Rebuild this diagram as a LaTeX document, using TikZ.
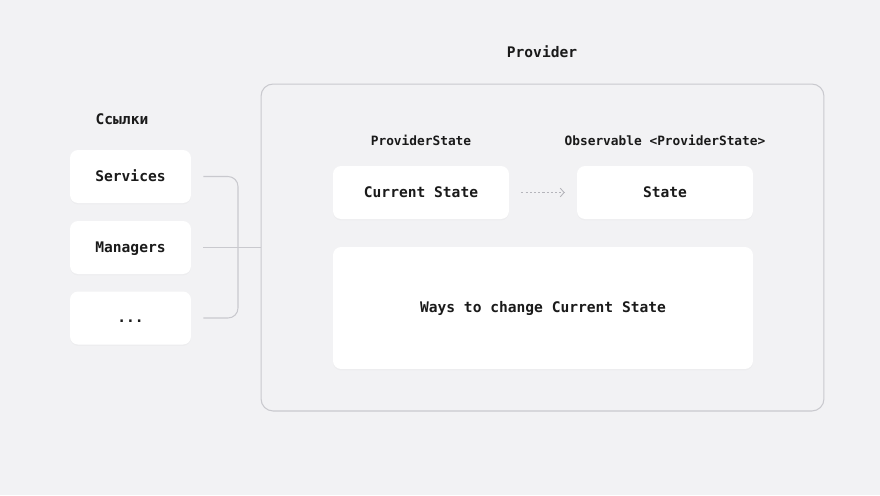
\documentclass[tikz,border=0pt]{standalone}
\usepackage{fontspec}
\setmonofont{DejaVu Sans Mono}
\usepackage{tikz}
\usetikzlibrary{shapes,arrows.meta,shadows}
\definecolor{pagebg}{HTML}{F2F2F4}
\definecolor{edgegray}{HTML}{C9C9CE}
\definecolor{dotgray}{HTML}{B5B5BB}
\definecolor{inktext}{HTML}{1A1A1A}

\begin{document}
\begin{tikzpicture}[x=0.02cm, y=-0.02cm, font=\fontsize{8.3}{10}\selectfont\ttfamily\bfseries, text=inktext]
        \tikzstyle{card} = [rectangle, fill=white, rounded corners=0.16cm, inner sep=0pt, text height=1.6ex, text depth=0.3ex, drop shadow={shadow xshift=0pt, shadow yshift=-0.8pt, opacity=0.04}]
        \tikzstyle{link} = [card, minimum width=2.42cm, minimum height=1.06cm]
        \tikzstyle{state} = [card, minimum width=3.52cm, minimum height=1.06cm]
        \tikzstyle{caption} = [inner sep=0pt, text height=1.6ex, text depth=0.3ex]
        \tikzstyle{small caption} = [caption, font=\fontsize{7.3}{9}\selectfont\ttfamily\bfseries]
        \tikzstyle{line} = [draw=edgegray, line width=0.6pt]

    \path [fill=pagebg] (0,0) rectangle (880,495);
    \useasboundingbox (0,0) rectangle (880,495);

    % provider frame
    \node [rectangle, draw=edgegray, line width=0.6pt, rounded corners=0.24cm, minimum width=11.26cm, minimum height=6.54cm] (provider) at (542.5,247.5) {};
    \node [caption] (provider_title) at (542,53) {Provider};

    % links column
    \node [caption] (links_title) at (122,120) {Ссылки};
    \node [link] (services) at (130.5,176.5) {Services};
    \node [link] (managers) at (130.5,247.5) {Managers};
    \node [link] (others) at (130.5,318) {...};

    \path [line, rounded corners=0.2cm] ([xshift=0.24cm]services.east) -- (238,176.5) -- (238,318) -- ([xshift=0.24cm]others.east);
    \path [line] ([xshift=0.24cm]managers.east) -- (provider.west |- managers.east);

    % state
    \node [small caption] (state_title) at (421,141) {ProviderState};
    \node [small caption] (observable_title) at (665,141) {Observable <ProviderState>};
    \node [state] (current_state) at (421,192.5) {Current State};
    \node [state] (state) at (665,192.5) {State};
    \path [draw=dotgray, line width=0.5pt, dash pattern=on 1.2pt off 1.2pt, -{Straight Barb[length=2.2pt, width=5pt, line width=0.5pt]}] ([xshift=0.24cm]current_state.east) -- ([xshift=-0.24cm]state.west);

    \node [card, minimum width=8.4cm, minimum height=2.44cm] (ways) at (543,308) {Ways to change Current State};

    \end{tikzpicture}
\end{document}
